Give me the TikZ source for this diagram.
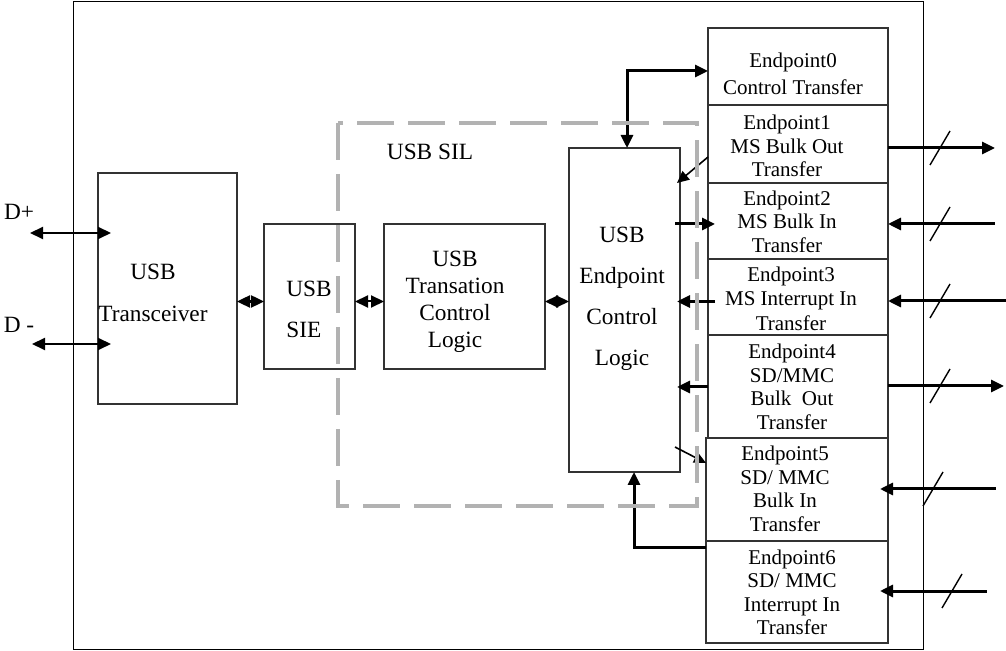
\documentclass[tikz,border=0pt]{standalone}
\usepackage{fontspec}
\setmainfont{Liberation Serif}
\usetikzlibrary{arrows.meta}

\tikzset{
  blk/.style={draw=black!80, line width=0.55pt, inner sep=0pt, outer sep=0pt},
  txt/.style={font=\fontsize{10.5}{11.75}\selectfont, align=center, inner sep=0pt},
  bigtxt/.style={txt, font=\fontsize{11.65}{13}\selectfont},
  fat/.style={line width=1.5pt, -{Triangle[length=6.5pt,width=6pt]}},
  fatdbl/.style={line width=1.5pt, {Triangle[length=6.5pt,width=6pt]}-{Triangle[length=6.5pt,width=6pt]}},
  meddbl/.style={line width=1pt, {Triangle[length=6.5pt,width=6pt]}-{Triangle[length=6.5pt,width=6pt]}},
  slim/.style={line width=0.8pt, -{Triangle[length=6pt,width=5.5pt]}},
  busout/.style={line width=1.5pt, -{Triangle[length=6.5pt,width=6pt]}},
  busin/.style={line width=1.5pt, {Triangle[length=6.5pt,width=6pt]}-},
  busdeep/.style={busin, shorten <=-4pt},
  silbox/.style={draw=black!30, line width=2pt, dash pattern=on 18.5pt off 7pt}
}

\begin{document}
\begin{tikzpicture}[x=0.5pt,y=-0.5pt]
\useasboundingbox (0,0) rectangle (1006,651);
\draw[line width=0.5pt] (73,2) rectangle (923,649);

% Blocks
\node[blk, minimum width=69.5pt, minimum height=115.5pt] (trx) at (167.5,288.5) {};
\node[blk, minimum width=45.5pt, minimum height=72.5pt] (sie) at (309.5,296.5) {};
\node[blk, minimum width=80.5pt, minimum height=72.5pt] (tcl) at (464.5,296.5) {};
\node[blk, minimum width=55.5pt, minimum height=162pt] (ecl) at (624.5,310) {};

\node[bigtxt, font=\fontsize{11.65}{21}\selectfont] (trxtxt) at (153,293) {USB\\Transceiver};
\node[bigtxt, align=left, anchor=west, font=\fontsize{11.65}{20.5}\selectfont] (sietxt) at (286,309.5) {USB\\SIE};
\node[bigtxt, font=\fontsize{11.65}{13.4}\selectfont] (tcltxt) at (455,302) {USB\\Transation\\Control\\Logic};
\node[bigtxt, font=\fontsize{11.65}{20.5}\selectfont] (ecltxt) at (622,298.5) {USB\\Endpoint\\Control\\Logic};

% Endpoints
\node[blk, minimum width=90pt, minimum height=38.5pt] (ep0) at (798,66.5) {};
\node[blk, minimum width=90pt, minimum height=39pt] (ep1) at (798,144) {};
\node[blk, minimum width=90pt, minimum height=38pt] (ep2) at (798,221) {};
\node[blk, minimum width=90pt, minimum height=38pt] (ep3) at (798,297) {};
\node[blk, minimum width=90pt, minimum height=51.5pt] (ep4) at (798,386.5) {};
\node[blk, minimum width=91pt, minimum height=51.5pt] (ep5) at (797,489.5) {};
\node[blk, minimum width=91pt, minimum height=51pt] (ep6) at (797,592) {};

\node[txt, font=\fontsize{10.5}{13.5}\selectfont] (ep0txt) at (793,74) {Endpoint0\\Control Transfer};
\node[txt] (ep1txt) at (787,146) {Endpoint1\\MS Bulk Out\\Transfer};
\node[txt] (ep2txt) at (787,221.5) {Endpoint2\\MS Bulk In\\Transfer};
\node[txt, font=\fontsize{10.5}{12.25}\selectfont] (ep3txt) at (791,298.5) {Endpoint3\\MS Interrupt In\\Transfer};
\node[txt] (ep4txt) at (792,387) {Endpoint4\\SD/MMC\\Bulk~~Out\\Transfer};
\node[txt] (ep5txt) at (785,489) {Endpoint5\\SD/ MMC\\Bulk In\\Transfer};
\node[txt] (ep6txt) at (792,592.5) {Endpoint6\\SD/ MMC\\Interrupt In\\Transfer};

% Pins
\node[bigtxt] (dplus) at (19,212) {D+};
\node[bigtxt] (dminus) at (19,325) {D -};
\coordinate (dp) at (30,233);
\coordinate (dm) at (32,344);
\draw[meddbl, shorten >=-6.5pt] (dp) -- (dp -| trx.west);
\draw[meddbl, shorten >=-6.5pt] (dm) -- (dm -| trx.west);

% Data path
\coordinate (rowmid) at (0,301.5);
\coordinate (row2) at (0,224);
\coordinate (row4) at (0,387);
\draw[fatdbl, line width=1.2pt] (rowmid -| trx.east) -- (rowmid -| sie.west);
\draw[meddbl] (rowmid -| sie.east) -- (rowmid -| tcl.west);
\draw[meddbl] (rowmid -| tcl.east) -- (rowmid -| ecl.west);

% Endpoint links
\draw[fatdbl] ([xshift=1.25pt]ecl.north) |- ([yshift=-2.25pt]ep0.west);
\draw[slim] ([yshift=-6.5pt]ep1.west) -- ([xshift=-1.5pt,yshift=-17.5pt]ecl.north east);
\draw[fat, shorten <=-2.5pt, shorten >=-3.5pt] (row2 -| ecl.east) -- (row2 -| ep2.west);
\draw[fat, shorten <=-3.5pt, shorten >=-1.5pt] (rowmid -| ep3.west) -- (rowmid -| ecl.east);
\draw[fat, shorten >=-1.5pt] (row4 -| ep4.west) -- (row4 -| ecl.east);
\draw[slim] ([xshift=-2.5pt,yshift=12.5pt]ecl.south east) -- ([yshift=-12.5pt]ep5.north west);
\draw[fat] ([yshift=-3.5pt]ep6.north west) -| ([xshift=4.75pt]ecl.south);

% Bus
\foreach \n/\y/\xe/\kind/\sx in {
1/148/995/busout/940, 2/224/995/busin/940, 3/301/1006/busin/940,
4/386/1004/busout/940, 5/489/996/busdeep/933, 6/591/987/busdeep/952
}
{
\coordinate (bus\n) at (\xe,\y);
\draw[\kind] (bus\n -| ep\n.east) -- (bus\n);
\draw[line width=0.7pt] (\sx-10,\y+17) -- (\sx+10,\y-17);
}

% SIL
\draw[silbox] (338,123) rectangle (697,506);
\node[bigtxt] (siltxt) at (430,152) {USB SIL};
\end{tikzpicture}
\end{document}
